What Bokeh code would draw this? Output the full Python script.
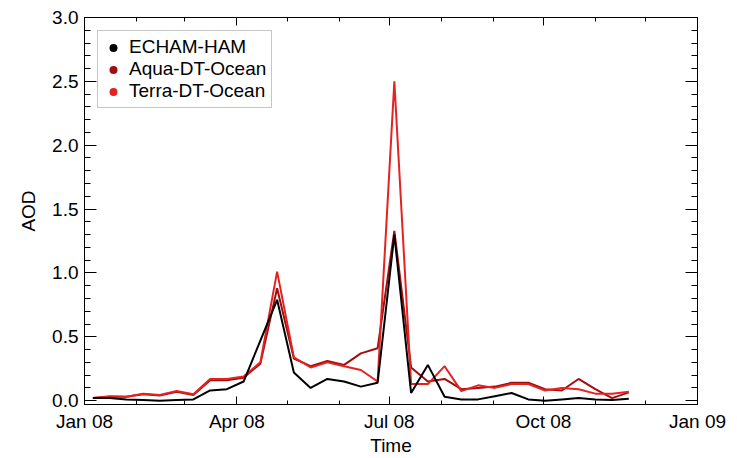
import numpy as np
from bokeh.plotting import figure
from bokeh.models import (Range1d, DatetimeAxis, LinearAxis, FixedTicker, SingleIntervalTicker,
                          DatetimeTickFormatter, PrintfTickFormatter, Legend, LegendItem, Label,
                          ColumnDataSource)
from bokeh.embed import file_html
from bokeh.resources import INLINE

# ---------------- data ----------------
title_text = "Siberia"
dates = ["2008-01-06", "2008-01-16", "2008-01-26", "2008-02-05", "2008-02-15", "2008-02-25",
         "2008-03-06", "2008-03-16", "2008-03-26", "2008-04-05", "2008-04-15", "2008-04-25",
         "2008-05-05", "2008-05-15", "2008-05-25", "2008-06-04", "2008-06-14", "2008-06-24",
         "2008-07-04", "2008-07-14", "2008-07-24", "2008-08-03", "2008-08-13", "2008-08-23",
         "2008-09-02", "2008-09-12", "2008-09-22", "2008-10-02", "2008-10-12", "2008-10-22",
         "2008-11-01", "2008-11-11", "2008-11-21"]
echam = [0.02, 0.02, 0.01, 0.005, 0.0, 0.005, 0.01, 0.08, 0.09, 0.15, 0.47, 0.79,
         0.22, 0.10, 0.17, 0.15, 0.11, 0.14, 1.30, 0.06, 0.28, 0.03, 0.01, 0.01,
         0.035, 0.06, 0.01, 0.0, 0.01, 0.02, 0.01, 0.005, 0.015]
aqua = [0.02, 0.03, 0.03, 0.05, 0.04, 0.07, 0.045, 0.16, 0.16, 0.18, 0.29, 0.88,
        0.33, 0.27, 0.31, 0.28, 0.37, 0.41, 1.33, 0.26, 0.15, 0.17, 0.09, 0.10,
        0.11, 0.14, 0.14, 0.09, 0.08, 0.17, 0.09, 0.02, 0.065]
terra = [0.02, 0.035, 0.03, 0.055, 0.045, 0.075, 0.05, 0.17, 0.17, 0.19, 0.30, 1.01,
         0.34, 0.26, 0.30, 0.27, 0.24, 0.15, 2.50, 0.13, 0.13, 0.27, 0.075, 0.12,
         0.10, 0.13, 0.13, 0.08, 0.10, 0.09, 0.055, 0.055, 0.07]
series_names = ["ECHAM-HAM", "Aqua-DT-Ocean", "Terra-DT-Ocean"]
series_colors = ["#000000", "#a00f0f", "#e42320"]
x_major_dates = ["2008-01-01", "2008-04-01", "2008-07-01", "2008-10-01", "2009-01-01"]
x_minor_dates = ["2008-02-01", "2008-03-01", "2008-05-01", "2008-06-01",
                 "2008-08-01", "2008-09-01", "2008-11-01", "2008-12-01"]
y_min, y_max = -0.03, 3.0
x_label = "Time"
y_label = "AOD"


def ms(s):
    return float((np.datetime64(s, "ms") - np.datetime64("1970-01-01", "ms")).astype("int64"))


FONT = "Liberation Sans"
x = np.array(dates, dtype="datetime64[ms]")
x_start, x_end = ms(x_major_dates[0]), ms(x_major_dates[-1])

p = figure(width=737, height=458, x_axis_type="datetime",
           x_range=Range1d(x_start, x_end), y_range=Range1d(y_min, y_max),
           output_backend="svg", toolbar_location=None,
           min_border_left=84, min_border_right=40, min_border_top=17, min_border_bottom=51)
p.xgrid.visible = False
p.ygrid.visible = False
p.outline_line_color = "black"
p.outline_line_width = 1
p.background_fill_color = "white"
p.border_fill_color = "white"

xticker = FixedTicker(ticks=[ms(d) for d in x_major_dates], minor_ticks=[ms(d) for d in x_minor_dates])
fmt = DatetimeTickFormatter(milliseconds="%b %y", seconds="%b %y", minsec="%b %y", minutes="%b %y",
                            hourmin="%b %y", hours="%b %y", days="%b %y", months="%b %y", years="%b %y")


def style_axis(ax, tick_in, minor_in):
    ax.axis_line_color = "black"
    ax.axis_line_width = 1
    ax.major_tick_in = tick_in
    ax.major_tick_out = 0
    ax.minor_tick_in = minor_in
    ax.minor_tick_out = 0
    ax.major_tick_line_color = "black"
    ax.minor_tick_line_color = "black"
    ax.major_label_text_font = FONT
    ax.major_label_text_color = "black"
    ax.axis_label_text_font = FONT
    ax.axis_label_text_font_style = "normal"
    ax.axis_label_text_color = "black"


xb = p.xaxis[0]
xb.ticker = xticker
xb.formatter = fmt
style_axis(xb, 8, 4)
xb.major_label_text_font_size = "19px"
xb.major_label_standoff = 6
xb.axis_label = x_label
xb.axis_label_text_font_size = "19px"
xb.axis_label_standoff = 0

yl = p.yaxis[0]
yl.ticker = SingleIntervalTicker(interval=0.5, num_minor_ticks=5)
yl.formatter = PrintfTickFormatter(format="%.1f")
style_axis(yl, 12, 6)
yl.major_label_text_font_size = "19px"
yl.major_label_standoff = 6
yl.axis_label = y_label
yl.axis_label_text_font_size = "19px"
yl.axis_label_standoff = 10

xt = DatetimeAxis(ticker=xticker, formatter=fmt)
style_axis(xt, 8, 4)
xt.major_label_text_font_size = "0px"
xt.major_label_standoff = 0
p.add_layout(xt, "above")

yr = LinearAxis(ticker=SingleIntervalTicker(interval=0.5, num_minor_ticks=5))
style_axis(yr, 12, 6)
yr.major_label_text_font_size = "0px"
yr.major_label_standoff = 0
p.add_layout(yr, "right")

# lines
src = ColumnDataSource(dict(x=x, echam=echam, aqua=aqua, terra=terra))
cols = ["echam", "aqua", "terra"]
for i in (1, 2, 0):
    p.line("x", cols[i], source=src, line_color=series_colors[i], line_width=2)

# legend markers: zero-size on the plot, legend draws its own sized dot
items = []
for name, col, c in zip(series_names, series_colors, cols):
    r = p.scatter("x", c, source=src, size=0, fill_color=col, line_color=None)
    items.append(LegendItem(label=name, renderers=[r]))
legend = Legend(items=items, location="top_left", margin=13, padding=5, spacing=0,
                glyph_width=20, glyph_height=21, label_height=20, label_standoff=6,
                label_text_font=FONT, label_text_font_size="19px", label_text_color="black",
                border_line_color="#8c8c8c", border_line_width=1,
                background_fill_color="white", background_fill_alpha=1.0)
p.add_layout(legend)

title = Label(x=(x_start + x_end) / 2, y=y_max, y_offset=10, text=title_text,
              text_align="center", text_baseline="alphabetic",
              text_font=FONT, text_font_size="22px", text_color="black")
p.add_layout(title)

open("out.html", "w").write(file_html(p, INLINE))
